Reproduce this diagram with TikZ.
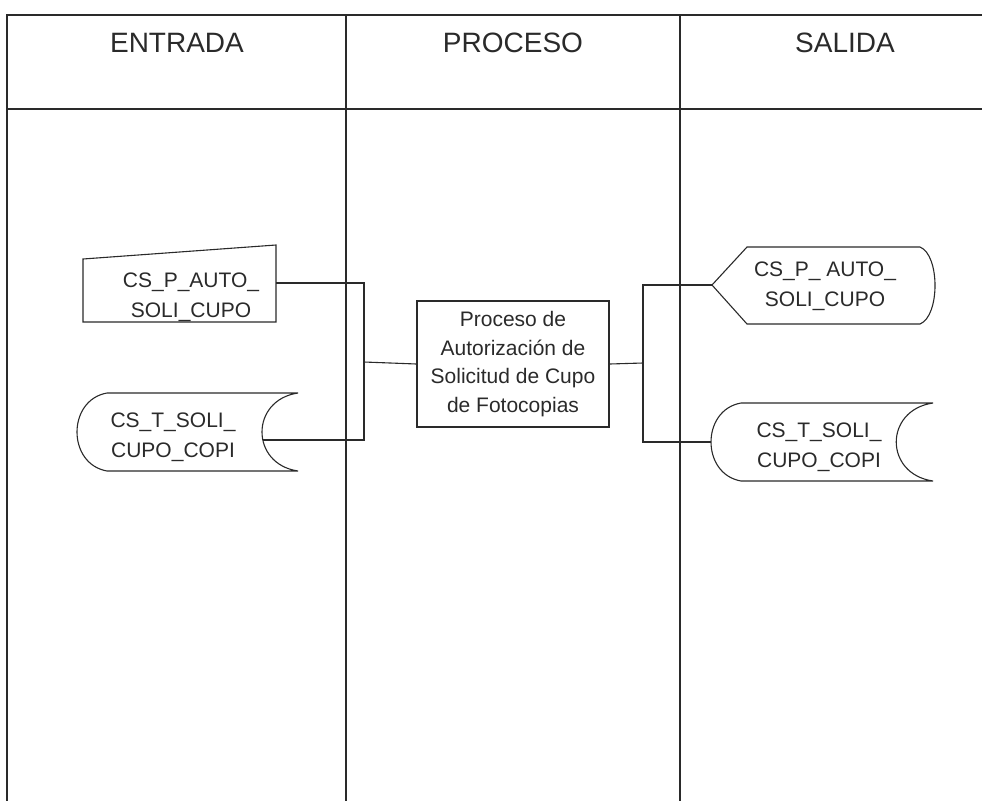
\documentclass[tikz,border=0pt]{standalone}
\usepackage{fontspec}
\setmainfont{Liberation Sans}
\definecolor{ink}{HTML}{2A2A2A}
\begin{document}
\begin{tikzpicture}[x=1pt,y=-1pt,
  frame/.style={draw=ink,line width=1.6pt},
  outline/.style={draw=ink,line width=1.1pt},
  wire/.style={draw=ink,line width=1.1pt},
  head/.style={text=ink,font=\fontsize{28}{32}\selectfont,inner sep=0pt},
  lbl/.style={text=ink,font=\fontsize{21}{30}\selectfont,align=center,inner sep=0pt},
  proc/.style={draw=ink,line width=1.1pt,text=ink,font=\fontsize{21}{28.5}\selectfont,align=center,
     minimum width=192pt,minimum height=126pt,inner sep=0pt}]
\useasboundingbox (0,0) rectangle (982,801);
% frame
\draw[frame] (982,15) -- (7,15) -- (7,801);
\draw[frame] (7,109) -- (982,109);
\draw[frame] (346,15) -- (346,801);
\draw[frame] (680,15) -- (680,801);
\node[head] (h1) at (177,43) {ENTRADA};
\node[head] (h2) at (513,43) {PROCESO};
\node[head] (h3) at (845,43) {SALIDA};
% input manual
\draw[outline] (83,259) -- (276,245) -- (276,322) -- (83,322) -- cycle;
\node[lbl] (in1) at (191,297) {CS\_P\_AUTO\_\\SOLI\_CUPO};
\coordinate (in1r) at (276,283);
% input stored data
\draw[outline] (298,393) -- (107,393) .. controls (67,400) and (67,464) .. (107,471)
   -- (298,471) .. controls (250,464) and (250,400) .. (298,393);
\node[lbl] (in2) at (173,437) {CS\_T\_SOLI\_\\CUPO\_COPI};
\coordinate (in2r) at (263,440);
% process
\node[proc] (p) at (513,364) {Proceso de\\Autorización de\\Solicitud de Cupo\\de Fotocopias};
% output display
\draw[outline] (712,285) -- (747,247) -- (920,247) .. controls (940,255) and (940,316) .. (920,324)
   -- (747,324) -- cycle;
\node[lbl] (out1) at (825,286) {CS\_P\_ AUTO\_\\SOLI\_CUPO};
\coordinate (out1l) at (712,285);
% output stored data
\draw[outline] (933,403) -- (741,403) .. controls (701,410) and (701,474) .. (741,481)
   -- (933,481) .. controls (884,474) and (884,410) .. (933,403);
\node[lbl] (out2) at (819,447) {CS\_T\_SOLI\_\\CUPO\_COPI};
\coordinate (out2l) at (711,442);
% connectors
\coordinate (jl) at (364,362);
\coordinate (jr) at (643,363);
\draw[wire] (in1r) -| (jl) |- (in2r);
\draw[wire] (jl) -- (p.west);
\draw[wire] (p.east) -- (jr);
\draw[wire] (out1l) -| (jr) |- (out2l);
\end{tikzpicture}
\end{document}
